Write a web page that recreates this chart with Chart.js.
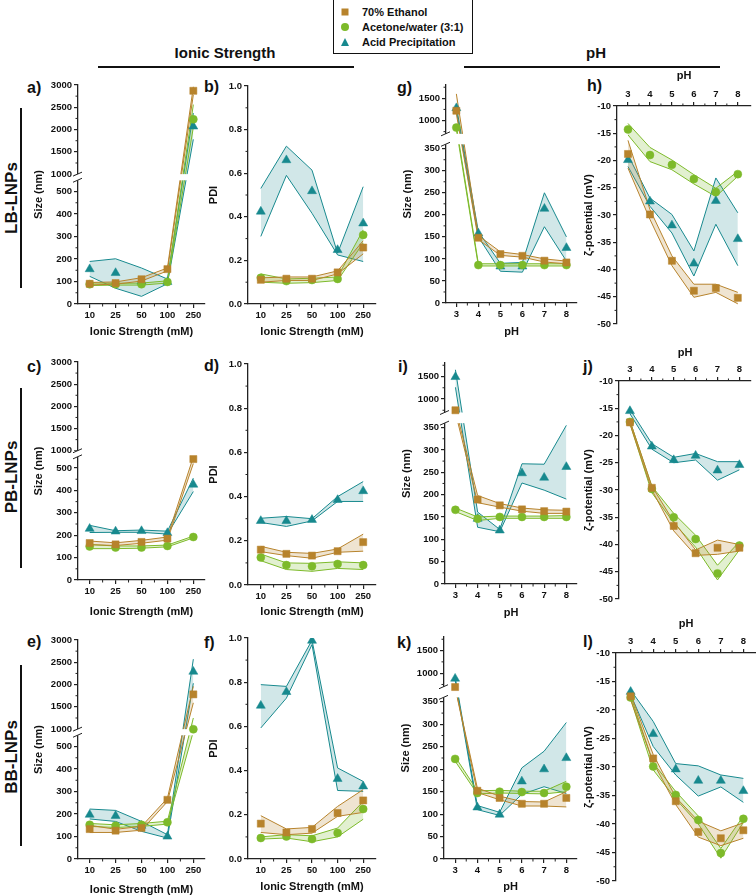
<!DOCTYPE html>
<html>
<head>
<meta charset="utf-8">
<script src="https://cdn.jsdelivr.net/npm/chart.js@4.4.1/dist/chart.umd.min.js"></script>
<style>
body { margin: 0; background: #fff; width: 756px; height: 896px; position: relative; overflow: hidden; font-family: "Liberation Sans", Arial, sans-serif; color: #111; }
canvas { position: absolute; }
.txt { position: absolute; font-weight: bold; white-space: nowrap; }
.pl { position: absolute; font-weight: bold; font-size: 16px; transform: translateY(-50%); }
.rowlab { position: absolute; font-weight: bold; font-size: 17px; white-space: nowrap; transform: translate(-50%, -50%) rotate(-90deg); }
.bar { position: absolute; background: #111; }
#legend { position: absolute; left: 333px; top: -1px; width: 140px; height: 55px; border: 1px solid #111; box-sizing: border-box; }
.lg { position: absolute; left: 28px; font-size: 11px; font-weight: bold; transform: translateY(-50%); white-space: nowrap; }
.mk { position: absolute; transform: translate(-50%, -50%); }
</style>
</head>
<body>

<div id="legend">
  <div class="mk" style="left:11px;top:12px;width:7px;height:7px;background:#b7832c"></div>
  <div class="lg" style="top:12px">70% Ethanol</div>
  <div class="mk" style="left:11px;top:27px;width:8px;height:8px;border-radius:50%;background:#7dba2a"></div>
  <div class="lg" style="top:27px">Acetone/water (3:1)</div>
  <div class="mk" style="left:11px;top:42px;width:0;height:0;border-left:4.5px solid transparent;border-right:4.5px solid transparent;border-bottom:8px solid #17898e"></div>
  <div class="lg" style="top:42px">Acid Precipitation</div>
</div>

<div class="txt" style="left:125px;top:44px;width:200px;text-align:center;font-size:15px">Ionic Strength</div>
<div class="bar" style="left:98px;top:66px;width:256px;height:1.5px"></div>
<div class="txt" style="left:496px;top:44px;width:200px;text-align:center;font-size:15px">pH</div>
<div class="bar" style="left:464px;top:66px;width:256px;height:1.5px"></div>

<div class="rowlab" style="left:12px;top:198px">LB-LNPs</div>
<div class="bar" style="left:20px;top:108px;width:1.5px;height:180px"></div>
<div class="rowlab" style="left:12px;top:477px">PB-LNPs</div>
<div class="bar" style="left:20px;top:388px;width:1.5px;height:180px"></div>
<div class="rowlab" style="left:12px;top:757px">BB-LNPs</div>
<div class="bar" style="left:20px;top:665px;width:1.5px;height:181px"></div>

<div class="pl" style="left:27px;top:88px">a)</div>
<div class="pl" style="left:204px;top:87px">b)</div>
<div class="pl" style="left:397px;top:88px">g)</div>
<div class="pl" style="left:587px;top:86px">h)</div>
<div class="pl" style="left:27px;top:367px">c)</div>
<div class="pl" style="left:204px;top:366px">d)</div>
<div class="pl" style="left:398px;top:367px">i)</div>
<div class="pl" style="left:583px;top:367px">j)</div>
<div class="pl" style="left:27px;top:642px">e)</div>
<div class="pl" style="left:204px;top:643px">f)</div>
<div class="pl" style="left:397px;top:643px">k)</div>
<div class="pl" style="left:583px;top:642px">l)</div>

<script>
// x categories
const ionicLabels = ['10', '25', '50', '100', '250'];
const ionicX = [0, 1, 2, 3, 4];
const phX = [3, 4, 5, 6, 7, 8];

// colours of the three preparation methods
const colEth = '#b7832c', colAce = '#7dba2a', colAcid = '#17898e';
const fillEth = 'rgba(183,131,44,0.22)', fillAce = 'rgba(125,186,42,0.22)', fillAcid = 'rgba(23,137,142,0.2)';

// a) LB-LNPs size vs ionic strength (nm)
const aEth = [90, 93, 110, 155, 2870];
const aEthLo = [85, 88, 102, 147, 2780];
const aEthHi = [96, 98, 117, 160, 2960];
const aAce = [88, 88, 88, 98, 2230];
const aAceLo = [82, 84, 84, 93, 2050];
const aAceHi = [94, 92, 93, 103, 2560];
const aAcid = [155, 138, 100, 98, 2070];
const aAcidLo = [123, 70, 34, 90, 1780];
const aAcidHi = [189, 201, 160, 111, 2370];

// b) LB-LNPs PDI vs ionic strength
const bEth = [0.111, 0.116, 0.116, 0.145, 0.259];
const bEthLo = [0.100, 0.108, 0.108, 0.138, 0.230];
const bEthHi = [0.120, 0.124, 0.124, 0.152, 0.290];
const bAce = [0.120, 0.105, 0.110, 0.115, 0.317];
const bAceLo = [0.100, 0.095, 0.098, 0.108, 0.280];
const bAceHi = [0.138, 0.115, 0.118, 0.124, 0.340];
const bAcid = [0.424, 0.660, 0.518, 0.248, 0.370];
const bAcidLo = [0.310, 0.590, 0.416, 0.225, 0.195];
const bAcidHi = [0.530, 0.724, 0.614, 0.233, 0.538];

// c) PB-LNPs size vs ionic strength
const cEth = [165, 159, 170, 185, 540];
const cEthLo = [158, 154, 164, 178, 520];
const cEthHi = [174, 166, 177, 192, 550];
const cAce = [150, 145, 145, 152, 192];
const cAceLo = [140, 140, 142, 148, 188];
const cAceHi = [158, 152, 152, 156, 196];
const cAcid = [229, 217, 219, 210, 426];
const cAcidLo = [212, 213, 213, 205, 395];
const cAcidHi = [244, 220, 223, 218, 455];

// d) PB-LNPs PDI vs ionic strength
const dEth = [0.160, 0.141, 0.133, 0.153, 0.194];
const dEthLo = [0.151, 0.133, 0.121, 0.148, 0.153];
const dEthHi = [0.175, 0.148, 0.143, 0.163, 0.230];
const dAce = [0.125, 0.090, 0.085, 0.095, 0.090];
const dAceLo = [0.110, 0.070, 0.062, 0.075, 0.070];
const dAceHi = [0.140, 0.100, 0.098, 0.105, 0.100];
const dAcid = [0.290, 0.290, 0.295, 0.385, 0.425];
const dAcidLo = [0.283, 0.265, 0.290, 0.378, 0.378];
const dAcidHi = [0.302, 0.310, 0.300, 0.400, 0.468];

// e) BB-LNPs size vs ionic strength
const eEth = [133, 126, 138, 263, 1780];
const eEthLo = [118, 118, 128, 255, 1590];
const eEthHi = [150, 132, 145, 270, 1960];
const eAce = [152, 148, 152, 163, 990];
const eAceLo = [145, 140, 145, 155, 820];
const eAceHi = [158, 152, 158, 168, 1250];
const eAcid = [197, 192, 148, 100, 2290];
const eAcidLo = [178, 167, 123, 93, 2030];
const eAcidHi = [222, 216, 167, 108, 2570];

// f) BB-LNPs PDI vs ionic strength
const fEth = [0.160, 0.120, 0.136, 0.208, 0.265];
const fEthLo = [0.120, 0.110, 0.117, 0.193, 0.211];
const fEthHi = [0.196, 0.136, 0.143, 0.238, 0.314];
const fAce = [0.095, 0.102, 0.090, 0.118, 0.226];
const fAceLo = [0.090, 0.095, 0.078, 0.100, 0.180];
const fAceHi = [0.100, 0.110, 0.105, 0.140, 0.260];
const fAcid = [0.694, 0.756, 0.988, 0.363, 0.329];
const fAcidLo = [0.593, 0.728, 0.970, 0.310, 0.306];
const fAcidHi = [0.789, 0.781, 0.990, 0.412, 0.351];

// g) LB-LNPs size vs pH
const gEth = [1220, 148, 111, 107, 96, 92];
const gEthLo = [1150, 144, 108, 104, 93, 89];
const gEthHi = [1600, 153, 116, 110, 100, 95];
const gAce = [840, 86, 86, 86, 86, 86];
const gAceLo = [800, 84, 84, 84, 84, 84];
const gAceHi = [880, 89, 89, 89, 89, 89];
const gAcid = [1280, 158, 83, 83, 214, 125];
const gAcidLo = [1230, 150, 72, 70, 173, 95];
const gAcidHi = [1320, 162, 90, 92, 250, 150];

// h) LB-LNPs zeta potential vs pH (mV)
const hEth = [-18.8, -29.9, -38.4, -43.9, -43.4, -45.2];
const hEthLo = [-21.4, -30.8, -39.3, -45.1, -44.2, -46.3];
const hEthHi = [-16.3, -29.0, -37.5, -42.7, -42.7, -44.2];
const hAce = [-14.3, -19.0, -20.8, -23.4, -25.8, -22.5];
const hAceLo = [-15.3, -20.2, -21.7, -24.3, -26.6, -22.9];
const hAceHi = [-13.2, -17.6, -19.9, -22.6, -25.1, -22.0];
const hAcid = [-19.9, -27.5, -31.9, -38.9, -27.4, -34.4];
const hAcidLo = [-21.1, -28.4, -33.3, -41.2, -31.7, -39.3];
const hAcidHi = [-19.0, -26.9, -29.9, -36.6, -23.2, -29.6];

// i) PB-LNPs size vs pH
const iEth = [750, 189, 176, 167, 163, 162];
const iEthLo = [700, 182, 172, 163, 158, 158];
const iEthHi = [800, 198, 180, 170, 166, 165];
const iAce = [166, 146, 150, 150, 150, 150];
const iAceLo = [162, 142, 147, 147, 147, 147];
const iAceHi = [170, 150, 152, 152, 152, 153];
const iAcid = [1490, 146, 120, 248, 238, 262];
const iAcidLo = [1260, 127, 117, 226, 210, 190];
const iAcidHi = [1650, 161, 122, 269, 268, 355];

// j) PB-LNPs zeta potential vs pH
const jEth = [-17.6, -29.6, -36.6, -41.6, -40.6, -40.6];
const jEthLo = [-17.9, -30.0, -37.5, -42.0, -41.8, -41.2];
const jEthHi = [-17.3, -29.3, -35.8, -41.0, -39.2, -40.0];
const jAce = [-17.5, -29.8, -35.0, -39.0, -45.3, -40.2];
const jAceLo = [-17.8, -30.5, -36.0, -40.5, -46.5, -41.0];
const jAceHi = [-17.3, -29.3, -34.3, -38.3, -43.8, -39.5];
const jAcid = [-15.5, -22.0, -24.5, -23.7, -26.4, -25.4];
const jAcidLo = [-16.0, -22.5, -25.0, -24.5, -28.2, -26.3];
const jAcidHi = [-15.2, -21.5, -24.0, -23.3, -24.8, -24.8];

// k) BB-LNPs size vs pH
const kEth = [690, 152, 136, 123, 123, 136];
const kEthLo = [680, 148, 132, 118, 118, 116];
const kEthHi = [700, 158, 140, 128, 127, 150];
const kAce = [223, 147, 150, 149, 147, 161];
const kAceLo = [218, 145, 147, 146, 145, 150];
const kAceHi = [228, 152, 153, 151, 151, 173];
const kAcid = [880, 115, 99, 173, 200, 225];
const kAcidLo = [850, 110, 97, 144, 161, 146];
const kAcidHi = [920, 119, 104, 203, 240, 304];

// l) BB-LNPs zeta potential vs pH
const lEth = [-17.6, -28.5, -36.0, -41.4, -42.5, -41.1];
const lEthLo = [-18.2, -29.2, -36.6, -42.3, -43.8, -42.5];
const lEthHi = [-17.2, -27.8, -35.3, -39.5, -41.2, -39.8];
const lAce = [-17.8, -29.9, -34.9, -39.3, -45.1, -39.1];
const lAceLo = [-18.1, -30.5, -35.6, -40.0, -46.0, -39.7];
const lAceHi = [-17.5, -29.3, -34.3, -38.6, -44.3, -38.6];
const lAcid = [-16.8, -24.2, -30.4, -32.4, -32.4, -34.2];
const lAcidLo = [-17.3, -26.4, -31.4, -35.1, -33.5, -36.2];
const lAcidHi = [-16.5, -22.0, -29.4, -29.8, -31.4, -32.0];

// tick values
const sizeIonicMajor = [0, 100, 200, 300, 400, 500, 1000, 1500, 2000, 2500, 3000];
const sizeIonicMinor = [50, 150, 250, 350, 450, 1250, 1750, 2250, 2750];
const sizePhMajor = [0, 50, 100, 150, 200, 250, 300, 350, 1000, 1500];
const sizePhMinor = [25, 75, 125, 175, 225, 275, 325, 750, 1250, 1750];
const pdiMajor = [0, 0.2, 0.4, 0.6, 0.8, 1.0];
const pdiMinor = [0.1, 0.3, 0.5, 0.7, 0.9];
const zetaMajor = [-50, -45, -40, -35, -30, -25, -20, -15, -10];
const zetaMinor = [-47.5, -42.5, -37.5, -32.5, -27.5, -22.5, -17.5, -12.5];

// broken axis: lower part 0..lo, upper part hi..max, as fractions of the axis height
function breakMap(b) {
    return function (v) {
        if (v <= b.lo) return v / b.lo * b.loF;
        if (v >= b.hi) return b.hiF + (v - b.hi) / (b.max - b.hi) * (1 - b.hiF);
        return b.loF + (v - b.lo) / (b.hi - b.lo) * (b.hiF - b.loF);
    };
}
const ident = v => v;

const sizeIonicBreak = { lo: 550, loF: 0.565, hi: 1000, hiF: 0.593, max: 3000 };
const sizePhBreak = { lo: 360, loF: 0.728, hi: 700, hiF: 0.776, max: 1800 };

const yAxes = {
    sizeIonic: { title: 'Size (nm)', min: 0, max: 1, f: breakMap(sizeIonicBreak), brk: sizeIonicBreak, major: sizeIonicMajor, minor: sizeIonicMinor, fmt: v => String(v) },
    sizePh: { title: 'Size (nm)', min: 0, max: 1, f: breakMap(sizePhBreak), brk: sizePhBreak, major: sizePhMajor, minor: sizePhMinor, fmt: v => String(v) },
    pdi: { title: 'PDI', min: 0, max: 1, f: ident, major: pdiMajor, minor: pdiMinor, fmt: v => v.toFixed(1) },
    zeta: { title: 'ζ-potential (mV)', min: -50, max: -10, f: ident, major: zetaMajor, minor: zetaMinor, fmt: v => String(v) }
};

const tickFont = { family: '"Liberation Sans", Arial, sans-serif', size: 9.5, weight: 'bold' };
const titleFont = { family: '"Liberation Sans", Arial, sans-serif', size: 11, weight: 'bold' };

// plot box = [left, top, right, bottom] of the axes frame
const panels = [
    { box: [78, 85, 205, 304], yw: 46, xh: 35, x: 'ionic', xMin: -0.45, xMax: 4.45, y: 'sizeIonic', s: [[aEth, aEthLo, aEthHi], [aAce, aAceLo, aAceHi], [aAcid, aAcidLo, aAcidHi]] },
    { box: [248, 86, 376, 304], yw: 41, xh: 35, x: 'ionic', xMin: -0.5, xMax: 4.5, y: 'pdi', s: [[bEth, bEthLo, bEthHi], [bAce, bAceLo, bAceHi], [bAcid, bAcidLo, bAcidHi]] },
    { box: [446, 85, 577, 303], yw: 45, xh: 36, x: 'ph', xMin: 2.53, xMax: 8.48, y: 'sizePh', s: [[gEth, gEthLo, gEthHi], [gAce, gAceLo, gAceHi], [gAcid, gAcidLo, gAcidHi]] },
    { box: [617, 106, 751, 324], yw: 35, xh: 37, x: 'phTop', xMin: 2.5, xMax: 8.6, y: 'zeta', s: [[hEth, hEthLo, hEthHi], [hAce, hAceLo, hAceHi], [hAcid, hAcidLo, hAcidHi]] },
    { box: [78, 362, 205, 580], yw: 46, xh: 39, x: 'ionic', xMin: -0.45, xMax: 4.45, y: 'sizeIonic', s: [[cEth, cEthLo, cEthHi], [cAce, cAceLo, cAceHi], [cAcid, cAcidLo, cAcidHi]] },
    { box: [248, 364, 376, 585], yw: 41, xh: 34, x: 'ionic', xMin: -0.5, xMax: 4.5, y: 'pdi', s: [[dEth, dEthLo, dEthHi], [dAce, dAceLo, dAceHi], [dAcid, dAcidLo, dAcidHi]] },
    { box: [445, 363, 577, 584], yw: 45, xh: 36, x: 'ph', xMin: 2.53, xMax: 8.48, y: 'sizePh', s: [[iEth, iEthLo, iEthHi], [iAce, iAceLo, iAceHi], [iAcid, iAcidLo, iAcidHi]] },
    { box: [619, 381, 751, 599], yw: 37, xh: 35, x: 'phTop', xMin: 2.5, xMax: 8.53, y: 'zeta', s: [[jEth, jEthLo, jEthHi], [jAce, jAceLo, jAceHi], [jAcid, jAcidLo, jAcidHi]] },
    { box: [78, 640, 205, 859], yw: 46, xh: 38, x: 'ionic', xMin: -0.45, xMax: 4.45, y: 'sizeIonic', s: [[eEth, eEthLo, eEthHi], [eAce, eAceLo, eAceHi], [eAcid, eAcidLo, eAcidHi]] },
    { box: [248, 638, 376, 859], yw: 41, xh: 35, x: 'ionic', xMin: -0.5, xMax: 4.5, y: 'pdi', s: [[fEth, fEthLo, fEthHi], [fAce, fAceLo, fAceHi], [fAcid, fAcidLo, fAcidHi]] },
    { box: [444, 637, 577, 859], yw: 45, xh: 35, x: 'ph', xMin: 2.5, xMax: 8.48, y: 'sizePh', s: [[kEth, kEthLo, kEthHi], [kAce, kAceLo, kAceHi], [kAcid, kAcidLo, kAcidHi]] },
    { box: [616, 653, 756, 881], yw: 34, xh: 36, x: 'phTop', xMin: 2.35, xMax: 8.56, y: 'zeta', s: [[lEth, lEthLo, lEthHi], [lAce, lAceLo, lAceHi], [lAcid, lAcidLo, lAcidHi]] }
];

const seriesStyle = [
    { color: colEth, fill: fillEth, point: 'rect', radius: 5 },
    { color: colAce, fill: fillAce, point: 'circle', radius: 4 },
    { color: colAcid, fill: fillAcid, point: 'triangle', radius: 5.2 }
];

// minor ticks and the white gap of a broken axis
function extrasPlugin(p, ax, xMinor, top) {
    function drawGap(chart) {
        if (!ax.brk) return;
        const ys = chart.scales.y, ctx = chart.ctx;
        const y1 = ys.getPixelForValue(ax.brk.loF), y2 = ys.getPixelForValue(ax.brk.hiF);
        ctx.save();
        ctx.fillStyle = '#fff';
        ctx.fillRect(ys.right - 6, y2, chart.chartArea.right - ys.right + 6, y1 - y2);
        ctx.strokeStyle = '#222';
        ctx.lineWidth = 1;
        ctx.beginPath();
        [y1, y2].forEach(y => { ctx.moveTo(ys.right - 5, y + 2); ctx.lineTo(ys.right + 4, y - 2); });
        ctx.stroke();
        ctx.restore();
    }
    return {
        id: 'extras',
        beforeDatasetsDraw(chart) { chart.$gapDone = false; },
        beforeDatasetDraw(chart, args) {
            if (chart.data.datasets[args.index].isMark && !chart.$gapDone) {
                chart.$gapDone = true;
                drawGap(chart);
            }
        },
        afterDraw(chart) {
            const xs = chart.scales.x, ys = chart.scales.y, ctx = chart.ctx;
            ctx.save();
            ctx.strokeStyle = '#222';
            ctx.lineWidth = 1;
            ctx.beginPath();
            ax.minor.forEach(v => {
                const y = ys.getPixelForValue(ax.f(v));
                ctx.moveTo(ys.right - 2.5, y); ctx.lineTo(ys.right, y);
            });
            xMinor.forEach(v => {
                const x = xs.getPixelForValue(v);
                if (top) { ctx.moveTo(x, xs.bottom - 2.5); ctx.lineTo(x, xs.bottom); }
                else { ctx.moveTo(x, xs.top); ctx.lineTo(x, xs.top + 2.5); }
            });
            ctx.stroke();
            ctx.restore();
        }
    };
}

function makePanel(p) {
    const [L, T, R, B] = p.box;
    const top = p.x === 'phTop';
    const ax = yAxes[p.y];
    const xs = p.x === 'ionic' ? ionicX : phX;
    const xMinor = p.x === 'ionic' ? [0.5, 1.5, 2.5, 3.5] : [3.5, 4.5, 5.5, 6.5, 7.5];

    const cv = document.createElement('canvas');
    const padT = top ? 0 : 10, padB = top ? 10 : 0, padR = 12;
    cv.width = R - L + p.yw + padR;
    cv.height = (B - T) + p.xh + 10;
    cv.style.left = (L - p.yw) + 'px';
    cv.style.top = (top ? T - p.xh : T - 10) + 'px';
    document.body.appendChild(cv);

    const datasets = [];
    p.s.forEach((ser, k) => {
        const st = seriesStyle[k];
        const pts = arr => arr.map((v, i) => ({ x: xs[i], y: ax.f(v) }));
        datasets.push({ data: pts(ser[1]), borderColor: st.color, borderWidth: 1, pointRadius: 0, fill: false, order: 1 });
        datasets.push({ data: pts(ser[2]), borderColor: st.color, borderWidth: 1, pointRadius: 0, fill: '-1', backgroundColor: st.fill, order: 1 });
    });
    p.s.forEach((ser, k) => {
        const st = seriesStyle[k];
        datasets.push({
            data: ser[0].map((v, i) => ({ x: xs[i], y: ax.f(v) })),
            showLine: false, isMark: true, order: 0,
            pointStyle: st.point, pointRadius: st.radius,
            pointBackgroundColor: st.color, pointBorderColor: st.color, pointBorderWidth: 0.5
        });
    });

    const grid = { drawOnChartArea: false, drawTicks: true, tickLength: 4, color: '#222', lineWidth: 1.2 };
    const border = { display: true, color: '#222', width: 1.3 };

    new Chart(cv, {
        type: 'line',
        data: { datasets: datasets },
        options: {
            responsive: false,
            animation: false,
            layout: { padding: { top: padT, bottom: padB, right: padR, left: 0 } },
            plugins: { legend: { display: false }, tooltip: { enabled: false } },
            scales: {
                x: {
                    type: 'linear', position: top ? 'top' : 'bottom',
                    min: p.xMin, max: p.xMax,
                    afterBuildTicks: s => { s.ticks = xs.map(v => ({ value: v })); },
                    afterFit: s => { s.height = p.xh; },
                    ticks: { autoSkip: false, maxRotation: 0, padding: 2, color: '#111', font: tickFont,
                        callback: v => p.x === 'ionic' ? ionicLabels[v] : String(v) },
                    grid: grid, border: border,
                    title: { display: true, text: p.x === 'ionic' ? 'Ionic Strength (mM)' : 'pH', color: '#111', font: titleFont, padding: 0 }
                },
                y: {
                    type: 'linear', min: ax.min, max: ax.max,
                    afterBuildTicks: s => { s.ticks = ax.major.map(v => ({ value: ax.f(v) })); },
                    afterFit: s => { s.width = p.yw; },
                    ticks: { autoSkip: false, padding: 2, color: '#111', font: tickFont,
                        callback: (v, i) => ax.fmt(ax.major[i]) },
                    grid: grid, border: border,
                    title: { display: true, text: ax.title, color: '#111', font: titleFont, padding: 0 }
                }
            }
        },
        plugins: [extrasPlugin(p, ax, xMinor, top)]
    });
}

panels.forEach(makePanel);
</script>
</body>
</html>
